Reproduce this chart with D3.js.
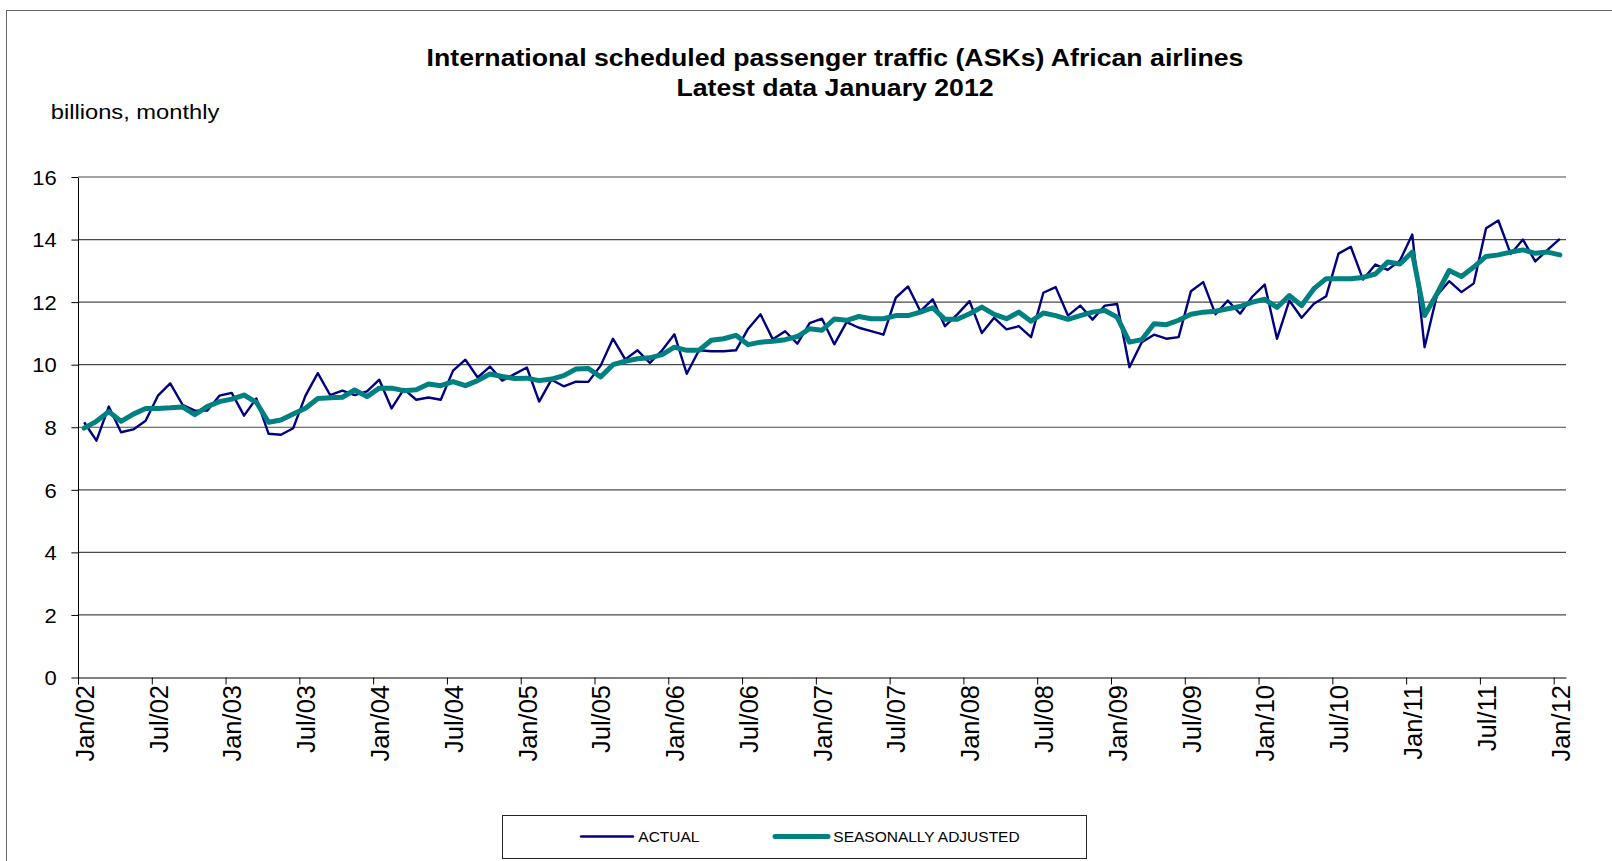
<!DOCTYPE html>
<html>
<head>
<meta charset="utf-8">
<script src="https://cdn.jsdelivr.net/npm/d3@7"></script>
<style>
  body { margin: 0; background: #fff; }
  text { font-family: Arial, "Liberation Sans", sans-serif; fill: #000; }
</style>
</head>
<body>
<svg id="chart" width="1612" height="861"></svg>
<script>
// monthly values, Jan 2002 .. Jan 2012 (billions of ASKs)
let actual = [
  8.16, 7.57, 8.66, 7.84, 7.93, 8.21, 9.01, 9.40, 8.72, 8.53, 8.53, 9.01,
  9.10, 8.37, 8.92, 7.79, 7.76, 7.97, 9.01, 9.73, 9.03, 9.17, 9.03, 9.15,
  9.52, 8.60, 9.22, 8.88, 8.95, 8.88, 9.81, 10.16, 9.59, 9.94, 9.49, 9.70,
  9.91, 8.82, 9.52, 9.31, 9.46, 9.45, 9.97, 10.83, 10.17, 10.46, 10.06, 10.46,
  10.97, 9.71, 10.46, 10.43, 10.43, 10.46, 11.15, 11.61, 10.81, 11.07, 10.67, 11.33,
  11.47, 10.65, 11.36, 11.18, 11.07, 10.96, 12.14, 12.50, 11.71, 12.09, 11.23, 11.61,
  12.03, 11.01, 11.50, 11.13, 11.23, 10.88, 12.30, 12.48, 11.57, 11.89, 11.44, 11.89,
  11.94, 9.92, 10.72, 10.96, 10.83, 10.88, 12.35, 12.64, 11.61, 12.05, 11.63, 12.18,
  12.56, 10.83, 12.05, 11.50, 11.95, 12.19, 13.55, 13.77, 12.72, 13.20, 13.03, 13.33,
  14.16, 10.56, 12.21, 12.67, 12.32, 12.60, 14.36, 14.61, 13.54, 14.00, 13.30, 13.67,
  14.02
];
let seasonal = [
  7.97, 8.19, 8.50, 8.19, 8.42, 8.60, 8.60, 8.62, 8.65, 8.40, 8.66, 8.82,
  8.90, 9.03, 8.80, 8.16, 8.23, 8.42, 8.61, 8.92, 8.94, 8.96, 9.19, 8.98,
  9.25, 9.25, 9.17, 9.20, 9.38, 9.33, 9.46, 9.33, 9.49, 9.70, 9.62, 9.56,
  9.57, 9.49, 9.54, 9.65, 9.86, 9.88, 9.61, 10.00, 10.11, 10.19, 10.22, 10.32,
  10.56, 10.46, 10.46, 10.78, 10.83, 10.94, 10.64, 10.72, 10.75, 10.80, 10.90, 11.15,
  11.10, 11.46, 11.42, 11.54, 11.47, 11.47, 11.57, 11.57, 11.68, 11.82, 11.45, 11.45,
  11.63, 11.84, 11.61, 11.47, 11.68, 11.39, 11.65, 11.57, 11.45, 11.57, 11.68, 11.73,
  11.52, 10.72, 10.80, 11.31, 11.28, 11.42, 11.61, 11.68, 11.71, 11.79, 11.86, 12.00,
  12.09, 11.83, 12.21, 11.89, 12.43, 12.75, 12.75, 12.75, 12.79, 12.90, 13.28, 13.22,
  13.60, 11.57, 12.26, 13.01, 12.82, 13.12, 13.46, 13.51, 13.60, 13.67, 13.56, 13.60,
  13.51
];
let months = d3.timeMonth.range(new Date(2002, 0, 1), new Date(2012, 1, 1));
let yTicks = [0, 2, 4, 6, 8, 10, 12, 14, 16];
let seriesNames = ["ACTUAL", "SEASONALLY ADJUSTED"];
let seriesColors = ["#000080", "#008080"];

let svg = d3.select("#chart");
let fmtMonth = d3.timeFormat("%b/%y");

let plot = {left: 78, right: 1566, top: 177, bottom: 677.5};

// outer chart border (runs off the right and bottom of the picture)
svg.append("rect")
    .attr("x", 6.5).attr("y", 10.5)
    .attr("width", 1700).attr("height", 900)
    .attr("fill", "none")
    .attr("stroke", "#666")
    .attr("stroke-width", 1);

// categories: one slot per month, points in the middle of each slot
let x = d3.scaleLinear().domain([0, months.length]).range([plot.left, plot.right]);
let y = d3.scaleLinear().domain([0, 16]).range([plot.bottom, plot.top]);

// title
let title = svg.append("g");
[["International scheduled passenger traffic (ASKs) African airlines", 66],
 ["Latest data January 2012", 96]].forEach(t => {
    title.append("text")
        .attr("transform", "translate(835," + t[1] + ") scale(1.16,1)")
        .attr("text-anchor", "middle")
        .attr("font-size", "23px")
        .attr("font-weight", "bold")
        .text(t[0]);
});

svg.append("text")
    .attr("transform", "translate(50.7,119.3) scale(1.13,1)")
    .attr("font-size", "21px")
    .text("billions, monthly");

// gridlines
svg.append("g")
    .selectAll("line")
    .data(yTicks.filter(d => d > 0))
    .enter().append("line")
    .attr("x1", plot.left).attr("x2", plot.right)
    .attr("y1", d => y(d)).attr("y2", d => y(d))
    .attr("stroke", "#4a4a4a")
    .attr("stroke-width", 1.2);

// y axis
let yAxis = svg.append("g")
    .attr("transform", "translate(" + plot.left + ",0)")
    .call(d3.axisLeft(y).tickValues(yTicks).tickSize(6.6).tickSizeOuter(0).tickFormat(d3.format("d")));
yAxis.select(".domain").attr("stroke", "#000");
yAxis.selectAll(".tick line").attr("stroke", "#000");
yAxis.selectAll("text")
    .attr("x", 0)
    .attr("dy", "0.36em")
    .attr("transform", "translate(-21.3,0) scale(1.1,1)")
    .attr("font-size", "20px")
    .attr("font-family", null)
    .attr("fill", "#000");

// x axis: tick marks between slots, labels under slot centres
let tickIdx = d3.range(0, months.length, 6);
let xTicks = svg.append("g")
    .attr("transform", "translate(0," + plot.bottom + ")")
    .call(d3.axisBottom(x).tickValues(tickIdx).tickSize(7).tickSizeOuter(0).tickFormat(""));
xTicks.select(".domain").attr("stroke", "#000");
xTicks.selectAll(".tick line").attr("stroke", "#000");

let xLabels = svg.append("g")
    .attr("transform", "translate(0," + plot.bottom + ")")
    .call(d3.axisBottom(x).tickValues(tickIdx.map(i => i + 0.5)).tickSize(0)
        .tickFormat(d => fmtMonth(months[d - 0.5])));
xLabels.select(".domain").remove();
xLabels.selectAll("text")
    .attr("transform", "rotate(-90)")
    .attr("x", -7.5)
    .attr("y", 0)
    .attr("dy", "0.36em")
    .attr("font-size", "25.5px")
    .attr("font-family", null)
    .attr("fill", "#000")
    .style("text-anchor", "end");

// lines
let line = d3.line()
    .x((d, i) => x(i + 0.5))
    .y(d => y(d));

svg.append("path")
    .datum(actual)
    .attr("fill", "none")
    .attr("stroke", seriesColors[0])
    .attr("stroke-width", 2.4)
    .attr("stroke-linejoin", "round")
    .attr("d", line);

svg.append("path")
    .datum(seasonal)
    .attr("fill", "none")
    .attr("stroke", seriesColors[1])
    .attr("stroke-width", 5)
    .attr("stroke-linejoin", "round")
    .attr("stroke-linecap", "round")
    .attr("d", line);

// legend
let legend = svg.append("g");
legend.append("rect")
    .attr("x", 502.5).attr("y", 815.5)
    .attr("width", 584).attr("height", 43)
    .attr("fill", "#fff")
    .attr("stroke", "#222")
    .attr("stroke-width", 1);

let legendItems = [
    {x1: 581, x2: 633, tx: 638.3, w: 2.4},
    {x1: 775, x2: 828, tx: 833.3, w: 5}
];
legendItems.forEach((it, i) => {
    legend.append("line")
        .attr("x1", it.x1).attr("x2", it.x2)
        .attr("y1", 836.5).attr("y2", 836.5)
        .attr("stroke", seriesColors[i])
        .attr("stroke-width", it.w)
        .attr("stroke-linecap", "round");
    legend.append("text")
        .attr("x", it.tx).attr("y", 842)
        .attr("font-size", "15.5px")
        .text(seriesNames[i]);
});
</script>
</body>
</html>
